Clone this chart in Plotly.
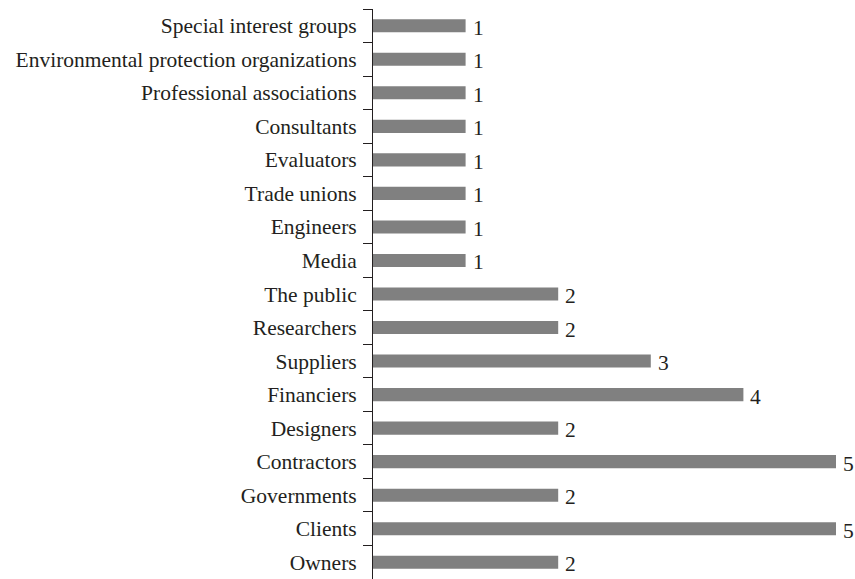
import plotly.graph_objects as go

categories = ["Owners", "Clients", "Governments", "Contractors", "Designers",
              "Financiers", "Suppliers", "Researchers", "The public", "Media",
              "Engineers", "Trade unions", "Evaluators", "Consultants",
              "Professional associations", "Environmental protection organizations",
              "Special interest groups"]
values = [2, 5, 2, 5, 2, 4, 3, 2, 2, 1, 1, 1, 1, 1, 1, 1, 1]

FONT = "Liberation Serif"
TXT = "#231f20"
FS = 21.5

fig = go.Figure()
fig.add_trace(go.Bar(
    x=values, y=categories, orientation="h",
    marker=dict(color="#808080", line=dict(width=0)),
    width=0.39,
    hoverinfo="skip",
    cliponaxis=False,
))

for c, v in zip(categories, values):
    fig.add_annotation(x=v, y=c, text=str(v), showarrow=False,
                       xanchor="left", xshift=6, yshift=-2, borderpad=0,
                       font=dict(family=FONT, size=FS, color=TXT))

fig.update_layout(
    width=855, height=579,
    margin=dict(l=373, r=19, t=9, b=0),
    paper_bgcolor="white", plot_bgcolor="white",
    showlegend=False,
    font=dict(family=FONT, size=FS, color=TXT),
    bargap=0.61,
)
fig.update_xaxes(range=[0, 5], visible=False, showgrid=False, zeroline=False)
fig.update_yaxes(
    type="category", categoryorder="array", categoryarray=categories,
    showline=True, linecolor=TXT, linewidth=1,
    ticks="outside", ticklen=9, tickcolor=TXT, tickwidth=1,
    tickson="boundaries", showgrid=False, zeroline=False,
    tickfont=dict(family=FONT, size=FS, color=TXT),
    ticklabelstandoff=11, automargin=False,
)

fig.write_html("out.html",
               config={"displayModeBar": False},
               post_script="document.body.style.margin='0';document.body.style.overflow='hidden';")
